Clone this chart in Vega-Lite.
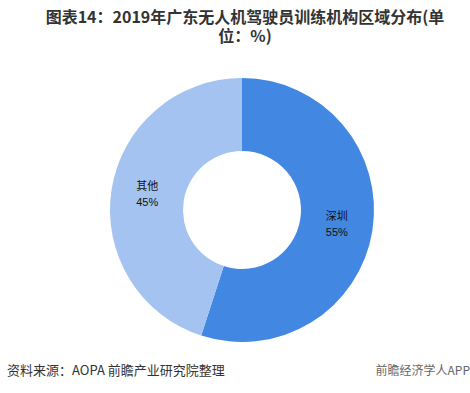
{
  "$schema": "https://vega.github.io/schema/vega-lite/v6.json",
  "padding": {"left": 7, "top": 10, "right": 0, "bottom": 0},
  "background": "white",
  "title": {
    "text": ["图表14：2019年广东无人机驾驶员训练机构区域分布(单", "位：%)"],
    "font": "Noto Sans CJK SC",
    "fontSize": 16,
    "fontWeight": "bold",
    "color": "#333333",
    "lineHeight": 19,
    "anchor": "middle",
    "dx": 3,
    "offset": 10
  },
  "vconcat": [
    {
      "width": 470,
      "height": 310,
      "data": {"values": [
        {"region": "深圳", "value": 0.55},
        {"region": "其他", "value": 0.45}
      ]},
      "encoding": {
        "theta": {"field": "value", "type": "quantitative", "stack": true},
        "order": {"field": "value", "type": "quantitative", "sort": "descending"}
      },
      "layer": [
        {
          "mark": {"type": "arc", "outerRadius": 132, "innerRadius": 59},
          "encoding": {
            "color": {
              "field": "region", "type": "nominal",
              "scale": {"domain": ["深圳", "其他"], "range": ["#4287E2", "#A4C3F0"]},
              "legend": null
            }
          }
        },
        {
          "mark": {"type": "text", "radius": 96, "dy": -8, "font": "Noto Sans CJK SC", "fontSize": 11, "color": "#111111"},
          "encoding": {"text": {"field": "region", "type": "nominal"}}
        },
        {
          "mark": {"type": "text", "radius": 96, "dy": 8, "font": "Liberation Sans", "fontSize": 11, "color": "#111111"},
          "encoding": {"text": {"field": "value", "type": "quantitative", "format": ".0%"}}
        }
      ]
    },
    {
      "hconcat": [
        {
          "width": 300, "height": 10,
          "data": {"values": []},
          "mark": "text",
          "encoding": {},
          "title": {"text": "资料来源：AOPA 前瞻产业研究院整理", "anchor": "start", "font": "Noto Sans CJK SC", "fontSize": 13, "fontWeight": "normal", "color": "#333333", "offset": 0, "dy": 4}
        },
        {
          "width": 163, "height": 10,
          "data": {"values": []},
          "mark": "text",
          "encoding": {},
          "title": {"text": "前瞻经济学人APP", "anchor": "end", "font": "Noto Sans CJK SC", "fontSize": 12, "fontWeight": "normal", "color": "#666666", "offset": 0, "dy": 4}
        }
      ]
    }
  ],
  "spacing": 0,
  "config": {
    "view": {"stroke": null},
    "concat": {"spacing": 0}
  }
}
